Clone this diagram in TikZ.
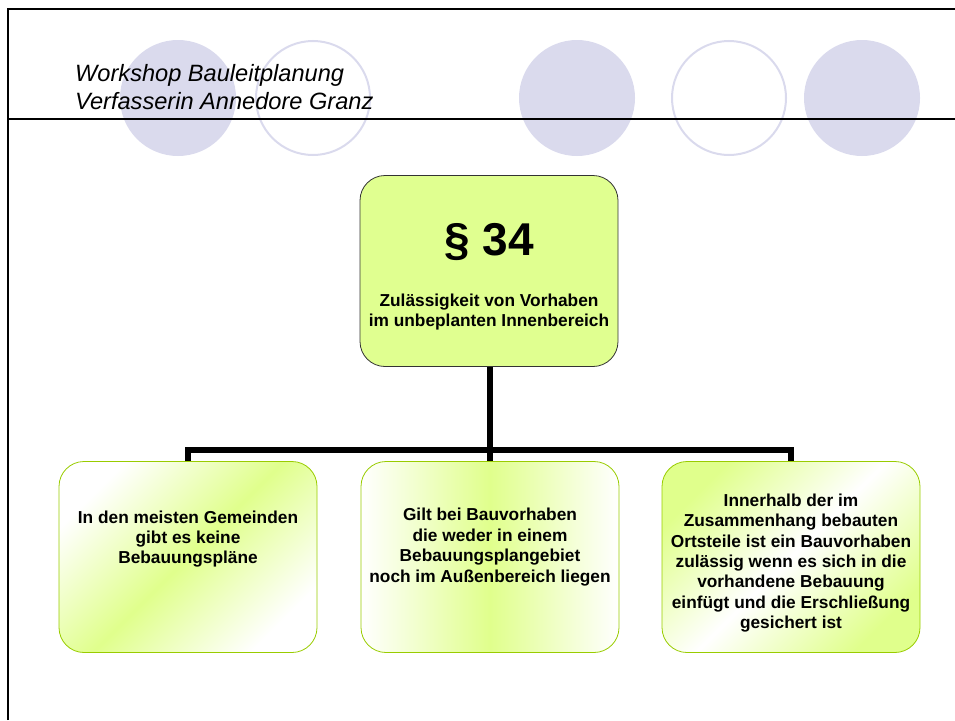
\documentclass[tikz,border=0pt]{standalone}
\usepackage{fontspec}
\setmainfont{Liberation Sans}
\definecolor{lav}{HTML}{DADAED}
\definecolor{lgreen}{HTML}{E0FF8C}
\definecolor{bgreen}{HTML}{99CC00}
\definecolor{mainfill}{HTML}{E0FF90}
\begin{document}
\begin{tikzpicture}[x=1pt,y=-1pt,
  mainbox/.style={draw=black!80,line width=0.8pt,fill=mainfill,rounded corners=25pt,minimum width=258pt,minimum height=191pt,inner sep=0pt},
  subbox/.style={draw=bgreen,line width=0.8pt,rounded corners=25pt,minimum width=258pt,minimum height=191pt,inner sep=0pt},
  boxtext/.style={align=center,font=\fontsize{17.3}{20.4}\selectfont\bfseries,inner sep=0pt},
  conn/.style={line width=6pt,black},
  fullcirc/.style={fill=lav,draw=none},
  ringcirc/.style={draw=lav,line width=2pt,fill=none}]
\useasboundingbox (0,0) rectangle (955,720);
% decorative circles
\fill[fullcirc] (178,98) circle (58);
\draw[ringcirc] (313,98) circle (57);
\fill[fullcirc] (577,98) circle (58);
\draw[ringcirc] (729,98) circle (57);
\fill[fullcirc] (862,98) circle (58);
% frame
\draw[line width=2pt] (8,720) -- (8,9) -- (955,9);
\draw[line width=1.5pt] (8,119) -- (955,119);
% header
\node[anchor=base west,inner sep=0pt,font=\fontsize{23.6}{28}\selectfont\itshape,align=left] (hdr) at (75,109)
  {Workshop Bauleitplanung\\Verfasserin Annedore Granz};
% main box
\node[mainbox] (main) at (489,271) {};
\node[inner sep=0pt,font=\fontsize{46}{50}\selectfont\bfseries] (para) at (489,242) {§ 34};
\node[boxtext] (mtitle) at (489,312) {Zulässigkeit von Vorhaben\\im unbeplanten Innenbereich};
% sub boxes
\node[subbox,top color=white,bottom color=white,middle color=lgreen,shading angle=45] (left) at (188,557) {};
\node[subbox,left color=white,right color=white,middle color=lgreen] (mid) at (490,557) {};
\node[subbox,top color=lgreen,bottom color=lgreen,middle color=white,shading angle=45] (right) at (791,557) {};
\node[boxtext] (lt) at (188,539) {In den meisten Gemeinden\\gibt es keine\\Bebauungspläne};
\node[boxtext] (mt) at (490,547) {Gilt bei Bauvorhaben\\die weder in einem\\Bebauungsplangebiet\\noch im Außenbereich liegen};
\node[boxtext] (rt) at (791,563) {Innerhalb der im\\Zusammenhang bebauten\\Ortsteile ist ein Bauvorhaben\\zulässig wenn es sich in die\\vorhandene Bebauung\\einfügt und die Erschließung\\gesichert ist};
% connectors
\coordinate (bar) at (490,450);
\draw[conn] (main.south -| mid.north) -- (mid.north);
\draw[conn] (left.north) |- (bar) -| (right.north);
\end{tikzpicture}
\end{document}
